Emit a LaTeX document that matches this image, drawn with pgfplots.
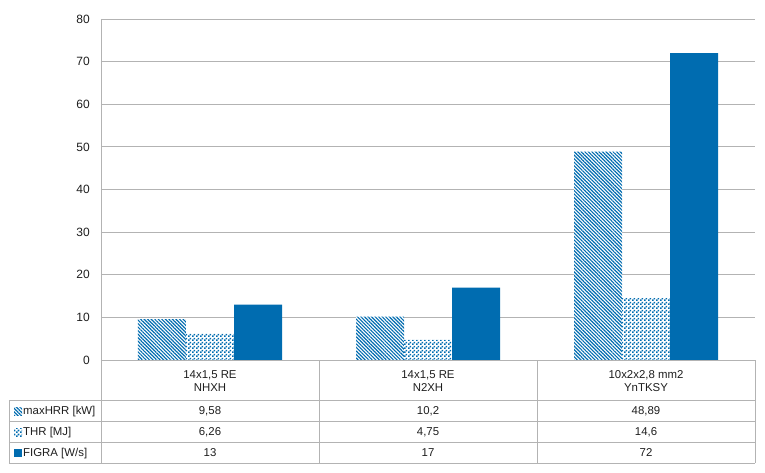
\documentclass[border=0pt]{standalone}
\usepackage{pgfplots}
\pgfplotsset{compat=1.18}
\usetikzlibrary{patterns,patterns.meta}
\usepackage{fontspec}
\setmainfont{Liberation Sans}
\definecolor{myblue}{RGB}{0,108,176}
\definecolor{gridgray}{RGB}{179,179,179}
\definecolor{txt}{RGB}{30,30,30}
\newcommand\f{\fontsize{11.4}{13.7}\selectfont}
\tikzdeclarepattern{name=checker, type=uncolored,
  bottom left={(0pt,0pt)}, top right={(4pt,4pt)}, tile size={(4pt,4pt)},
  code={\fill (0pt,0pt) rectangle (2pt,2pt); \fill (2pt,2pt) rectangle (4pt,4pt);}}
\pgfplotsset{sqlegend/.style={legend image code/.code={\path[##1] (0pt,-4pt) rectangle (8pt,4pt);}}}
\begin{document}
\begin{tikzpicture}
\path[use as bounding box] (-101pt,-112pt) rectangle (664pt,360pt);
\begin{axis}[
  at={(0pt,0pt)}, anchor=south west,
  scale only axis, width=654pt, height=341pt,
  ybar=0pt, bar width=48pt,
  xmin=-0.5, xmax=2.5, ymin=0, ymax=80,
  ytick={0,10,...,80},
  xtick={0,1,2},
  xticklabels={{14x1,5 RE\\NHXH},{14x1,5 RE\\N2XH},{10x2x2,8 mm2\\YnTKSY}},
  major tick length=0pt,
  axis line style={draw=none},
  ymajorgrids, grid style={gridgray, line width=0.8pt},
  /pgf/number format/assume math mode=true,
  yticklabel style={font=\fontsize{12}{14}\selectfont, text=txt, anchor=east, inner sep=0pt, xshift=-11pt},
  xticklabel style={font=\f, text=txt, align=center, anchor=north, inner sep=0pt, yshift=-10pt},
  clip=false,
  legend style={at={(-0.1330,-0.11935)}, anchor=north west, draw=none, fill=none,
    inner sep=0pt, row sep=0pt, column sep=0pt,
    nodes={font=\f, text=txt, minimum height=20.9pt, inner ysep=0pt, inner xsep=1pt}},
  legend cell align=left,
]
\addplot[draw=none, preaction={fill=white}, pattern={Lines[angle=-45, distance=2.5pt, line width=1.15pt]}, pattern color=myblue, sqlegend]
  coordinates {(0,9.58) (1,10.2) (2,48.89)};
\addplot[draw=none, preaction={fill=white}, pattern=checker, pattern color=myblue, sqlegend]
  coordinates {(0,6.26) (1,4.75) (2,14.6)};
\addplot[draw=none, fill=myblue, sqlegend]
  coordinates {(0,13) (1,17) (2,72)};
\legend{maxHRR [kW],THR [MJ],FIGRA [W/s]}
\end{axis}
% table grid
\begin{scope}[gridgray, line width=0.8pt]
\draw (0pt,341pt) -- (0pt,-103.4pt);
\draw (0pt,0pt) -- (654pt,0pt);
\foreach \y in {-40.7,-61.6,-82.5,-103.4} \draw (-92pt,\y pt) -- (654pt,\y pt);
\draw (-92pt,-40.7pt) -- (-92pt,-103.4pt);
\foreach \x in {218,436,654} \draw (\x pt,0pt) -- (\x pt,-103.4pt);
\end{scope}
% table values
\begin{scope}[font=\f, text=txt]
\node at (109pt,-51.15pt) {9,58};
\node at (327pt,-51.15pt) {10,2};
\node at (545pt,-51.15pt) {48,89};
\node at (109pt,-72.05pt) {6,26};
\node at (327pt,-72.05pt) {4,75};
\node at (545pt,-72.05pt) {14,6};
\node at (109pt,-92.95pt) {13};
\node at (327pt,-92.95pt) {17};
\node at (545pt,-92.95pt) {72};
\end{scope}
\end{tikzpicture}
\end{document}
